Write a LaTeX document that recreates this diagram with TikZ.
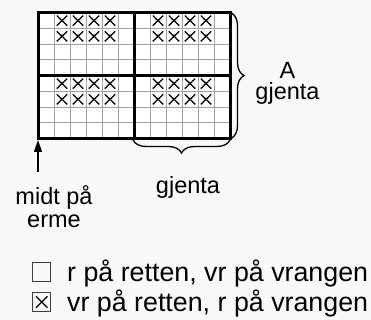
\documentclass[tikz,border=0pt]{standalone}
\usepackage{fontspec}
\setmainfont{Liberation Sans}
\usetikzlibrary{decorations.pathreplacing,arrows.meta}
\definecolor{bgc}{HTML}{F8F9FB}
\definecolor{thinc}{HTML}{A0A0A0}
\begin{document}
\begin{tikzpicture}[x=1pt,y=-1pt,
  lbl/.style={font=\fontsize{23.5}{21}\selectfont, inner sep=0pt, align=center},
  leglbl/.style={font=\fontsize{26.8}{30}\selectfont, inner sep=0pt, anchor=base west},
  thinline/.style={draw=thinc, line width=1pt},
  thickline/.style={draw=black, line width=3pt},
  xmark/.style={draw=black, line width=1.3pt},
  bracestyle/.style={draw=black, line width=1.3pt, decorate, decoration={brace, amplitude=13pt}},
  legendbox/.style={draw=black!75, line width=1pt, minimum width=18.5pt, minimum height=18.5pt, inner sep=0pt}]
\fill[bgc] (0,0) rectangle (371,320);
\useasboundingbox (0,0) rectangle (371,320);
% grid
\fill[white] (38,12.7) rectangle (230,138.7);
\foreach \i in {1,...,11} \draw[thinline] (38+16*\i,12.7) -- ++(0,126);
\foreach \j in {1,...,7} \draw[thinline] (38,12.7+15.75*\j) -- ++(192,0);
% X marks
\foreach \c in {1,2,3,4,7,8,9,10}
  \foreach \r in {0,1,4,5}
    \draw[xmark] (38+16*\c+8-5.2,12.7+15.75*\r+7.9-5) -- ++(10.4,10)
                 (38+16*\c+8+5.2,12.7+15.75*\r+7.9-5) -- ++(-10.4,10);
% thick lines
\draw[thickline] (38,12.7) rectangle (230,138.7);
\draw[thickline] (134,12.7) -- (134,138.7);
\draw[thickline] (38,75.7) -- (230,75.7);
% coordinates
\coordinate (gtr) at (231,12.7);
\coordinate (gbr) at (231,138.5);
\coordinate (bbr) at (230,140);
\coordinate (bbm) at (133,140);
\coordinate (gbl) at (38,140);
\coordinate (arrstart) at (38,172);
% braces
\draw[bracestyle] (gtr) -- (gbr);
\draw[bracestyle] (bbr) -- (bbm);
% labels
\node[lbl, anchor=base] (agj) at (287.5,99.3) {A\\gjenta};
\node[lbl, anchor=base] (gj2) at (188,193) {gjenta};
\node[lbl, anchor=base, font=\fontsize{23.5}{23}\selectfont] (midt) at (54,227.3) {midt på\\erme};
% arrow
\draw[line width=1.5pt, -{Triangle[width=8pt,length=12pt]}] (arrstart) -- (gbl);
% legend
\node[legendbox] (box1) at (41.7,272) {};
\node[legendbox] (box2) at (41.7,302) {};
\draw[xmark] (41.7-5.7,302-5.7) -- (41.7+5.7,302+5.7)
             (41.7+5.7,302-5.7) -- (41.7-5.7,302+5.7);
\node[leglbl] (leg1) at (67,281.5) {r på retten, vr på vrangen};
\node[leglbl] (leg2) at (67,311.5) {vr på retten, r på vrangen};
\end{tikzpicture}
\end{document}
